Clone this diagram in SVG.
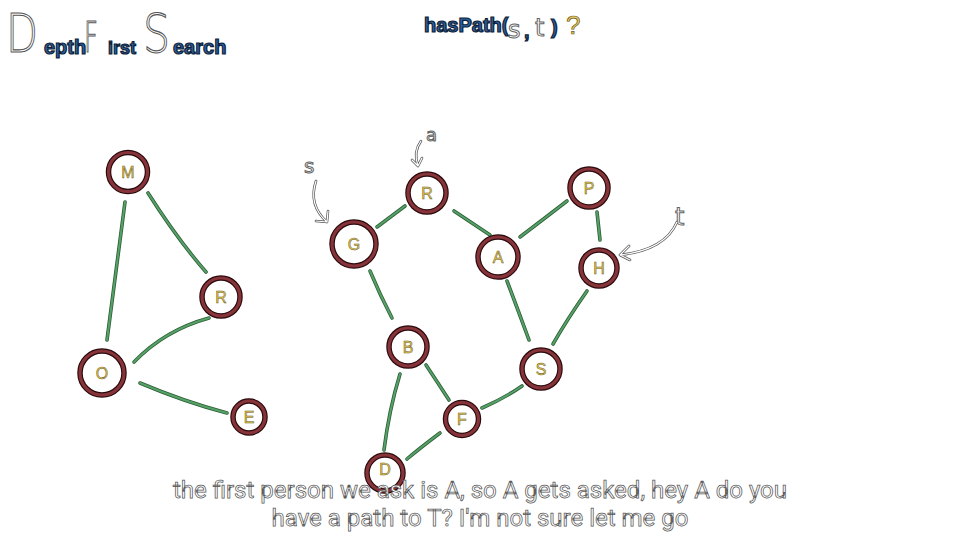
<svg xmlns="http://www.w3.org/2000/svg" width="960" height="534" viewBox="0 0 960 534">
<defs>
<style>
.edge-o{fill:none;stroke:#2e5c38;stroke-width:3.6;stroke-linecap:round}
.edge-i{fill:none;stroke:#55a266;stroke-width:2;stroke-linecap:round}
.ring-o{fill:#fff;stroke:#2a0a0c;stroke-width:5.5}
.ring-i{fill:none;stroke:#86343a;stroke-width:3.2}
.lbl{font-family:"Liberation Sans",Arial,sans-serif;font-size:16px;fill:#e6c75a;stroke:#6a5a18;stroke-width:0.5;text-anchor:middle;dominant-baseline:central}
.ann{fill:none;stroke:#555;stroke-width:2.6;stroke-linecap:round;stroke-linejoin:round}
.ann2{fill:none;stroke:#fff;stroke-width:1.2;stroke-linecap:round;stroke-linejoin:round}
.annt{font-family:"DejaVu Sans",sans-serif;fill:#fff;stroke:#666;stroke-width:1}
.big{font-family:"DejaVu Sans",sans-serif;font-weight:200;fill:#fff;stroke:#555;stroke-width:1.1}
.blue{font-family:"Liberation Sans",Arial,sans-serif;font-weight:bold;fill:#2d62a0;stroke:#0e1e38;stroke-width:1.2}
.sub{font-family:Roboto,"Liberation Sans",Arial,sans-serif;font-size:24px;fill:#fff;stroke:#555;stroke-width:0.75;text-anchor:middle}
</style>
</defs>
<rect width="960" height="534" fill="#fff"/>

<g id="title">
<text class="big" x="6" y="52" font-size="54" textLength="32" lengthAdjust="spacingAndGlyphs">D</text>
<text class="blue" x="44" y="54" font-size="20">epth</text>
<text class="big" x="84" y="52" font-size="42" textLength="14" lengthAdjust="spacingAndGlyphs">F</text>
<text class="blue" x="108" y="54" font-size="18">irst</text>
<text class="big" x="143" y="52" font-size="54" textLength="27" lengthAdjust="spacingAndGlyphs">S</text>
<text class="blue" x="173" y="54" font-size="20">earch</text>
</g>

<g id="question">
<text class="blue" x="424" y="32" font-size="20">hasPath(</text>
<text class="annt" x="508" y="38" font-size="24">s</text>
<text class="blue" x="524" y="38" font-size="20">,</text>
<text class="annt" x="535" y="36" font-size="24">t</text>
<text class="blue" x="551" y="34" font-size="20">)</text>
<text x="566" y="34" font-family="Liberation Sans,Arial,sans-serif" font-size="26" fill="#e8c860" stroke="#6a5a20" stroke-width="0.7">?</text>
</g>

<g id="connectors">
<path class="edge-o" d="M125 202 Q116 270 107 340"/><path class="edge-i" d="M125 202 Q116 270 107 340"/>
<path class="edge-o" d="M148 193 Q178 240 206 272"/><path class="edge-i" d="M148 193 Q178 240 206 272"/>
<path class="edge-o" d="M209 318 Q165 330 134 362"/><path class="edge-i" d="M209 318 Q165 330 134 362"/>
<path class="edge-o" d="M140 383 Q185 402 227 413"/><path class="edge-i" d="M140 383 Q185 402 227 413"/>

<path class="edge-o" d="M377 227 L405 206"/><path class="edge-i" d="M377 227 L405 206"/>
<path class="edge-o" d="M454 211 L490 235"/><path class="edge-i" d="M454 211 L490 235"/>
<path class="edge-o" d="M520 237 Q545 218 567 201"/><path class="edge-i" d="M520 237 Q545 218 567 201"/>
<path class="edge-o" d="M597 212 L600 240"/><path class="edge-i" d="M597 212 L600 240"/>
<path class="edge-o" d="M507 281 Q518 310 529 340"/><path class="edge-i" d="M507 281 Q518 310 529 340"/>
<path class="edge-o" d="M587 291 Q568 318 553 344"/><path class="edge-i" d="M587 291 Q568 318 553 344"/>
<path class="edge-o" d="M370 271 Q380 295 392 318"/><path class="edge-i" d="M370 271 Q380 295 392 318"/>
<path class="edge-o" d="M426 365 Q438 383 449 400"/><path class="edge-i" d="M426 365 Q438 383 449 400"/>
<path class="edge-o" d="M400 374 Q389 410 384 450"/><path class="edge-i" d="M400 374 Q389 410 384 450"/>
<path class="edge-o" d="M482 408 Q505 398 522 386"/><path class="edge-i" d="M482 408 Q505 398 522 386"/>
<path class="edge-o" d="M440 433 Q420 448 407 459"/><path class="edge-i" d="M440 433 Q420 448 407 459"/>
</g>

<g id="node-M"><circle class="ring-o" cx="128" cy="172" r="19.5"/><circle class="ring-i" cx="128" cy="172" r="19.5"/><text class="lbl" x="128" y="172">M</text></g>
<g id="node-R1"><circle class="ring-o" cx="221" cy="297" r="19"/><circle class="ring-i" cx="221" cy="297" r="19"/><text class="lbl" x="221" y="297">R</text></g>
<g id="node-O"><circle class="ring-o" cx="102" cy="373" r="22"/><circle class="ring-i" cx="102" cy="373" r="22"/><text class="lbl" x="102" y="373">O</text></g>
<g id="node-E"><circle class="ring-o" cx="249" cy="417" r="16"/><circle class="ring-i" cx="249" cy="417" r="16"/><text class="lbl" x="249" y="417">E</text></g>

<g id="node-R2"><circle class="ring-o" cx="427" cy="193" r="19"/><circle class="ring-i" cx="427" cy="193" r="19"/><text class="lbl" x="427" y="193">R</text></g>
<g id="node-G"><circle class="ring-o" cx="354" cy="244" r="22"/><circle class="ring-i" cx="354" cy="244" r="22"/><text class="lbl" x="354" y="244">G</text></g>
<g id="node-A"><circle class="ring-o" cx="498" cy="257" r="20"/><circle class="ring-i" cx="498" cy="257" r="20"/><text class="lbl" x="498" y="257">A</text></g>
<g id="node-P"><circle class="ring-o" cx="589" cy="188" r="19"/><circle class="ring-i" cx="589" cy="188" r="19"/><text class="lbl" x="589" y="188">P</text></g>
<g id="node-H"><circle class="ring-o" cx="599" cy="268" r="18"/><circle class="ring-i" cx="599" cy="268" r="18"/><text class="lbl" x="599" y="268">H</text></g>
<g id="node-B"><circle class="ring-o" cx="408" cy="347" r="19"/><circle class="ring-i" cx="408" cy="347" r="19"/><text class="lbl" x="408" y="347">B</text></g>
<g id="node-S"><circle class="ring-o" cx="541" cy="369" r="19"/><circle class="ring-i" cx="541" cy="369" r="19"/><text class="lbl" x="541" y="369">S</text></g>
<g id="node-F"><circle class="ring-o" cx="462" cy="419" r="16.5"/><circle class="ring-i" cx="462" cy="419" r="16.5"/><text class="lbl" x="462" y="419">F</text></g>
<g id="node-D"><circle class="ring-o" cx="385" cy="473" r="18"/><circle class="ring-i" cx="385" cy="473" r="18"/><text class="lbl" x="385" y="469">D</text></g>

<g id="annotations">
<text class="annt" x="304" y="173" font-size="20">s</text>
<path class="ann" d="M316 181 Q308 205 327 222 M316 221 L327 222 L328 211"/>
<path class="ann2" d="M316 181 Q308 205 327 222 M316 221 L327 222 L328 211"/>
<text class="annt" x="426" y="141" font-size="18">a</text>
<path class="ann" d="M421 141 Q413 152 418 166 M412 160 L418 166 L422 158"/>
<path class="ann2" d="M421 141 Q413 152 418 166 M412 160 L418 166 L422 158"/>
<text class="annt" x="675" y="225" font-size="24">t</text>
<path class="ann" d="M677 222 Q665 250 620 255 M629 246 L620 255 L630 260"/>
<path class="ann2" d="M677 222 Q665 250 620 255 M629 246 L620 255 L630 260"/>
</g>

<g id="subtitle">
<text class="sub" x="480" y="498">the first person we ask is A, so A gets asked, hey A do you</text>
<text class="sub" x="480" y="526">have a path to T? I'm not sure let me go</text>
</g>
</svg>
